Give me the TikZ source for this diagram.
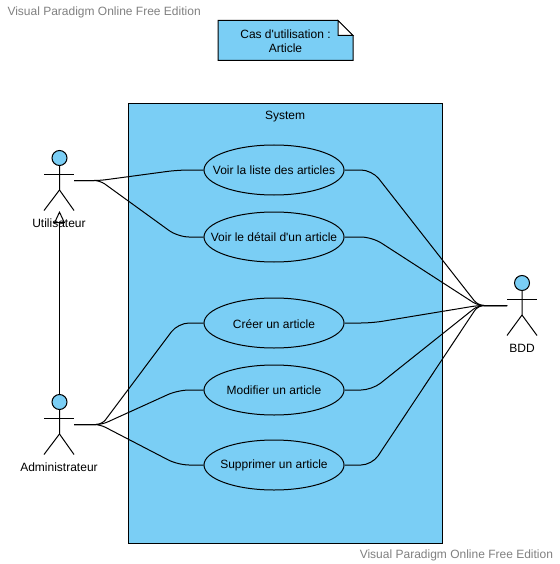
\documentclass[tikz,border=0pt]{standalone}
\usepackage{fontspec}
\newfontfamily\vpfont{Liberation Sans}
\usetikzlibrary{arrows.meta, shapes.geometric}
\definecolor{vpblue}{RGB}{122,206,245}
\tikzset{
  usecase/.style={draw, ellipse, fill=vpblue, minimum width=140pt, minimum height=50pt, inner sep=0pt},
  head/.style={draw, circle, fill=vpblue, minimum size=15pt, inner sep=0pt},
  label/.style={inner sep=0pt, font=\vpfont\fontsize{12}{14}\selectfont},
  wire/.style={rounded corners=6pt},
  softwire/.style={rounded corners=11pt},
  watermark/.style={inner sep=0pt, text=black!50, font=\vpfont\fontsize{12}{14}\selectfont}
}
\begin{document}
\begin{tikzpicture}[x=1pt,y=-1pt,line width=1pt]
\useasboundingbox (0,0) rectangle (559,564);
\node[watermark,anchor=west] (markA) at (7,12) {Visual Paradigm Online Free Edition};
\node[watermark,anchor=east] (markB) at (553.5,555) {Visual Paradigm Online Free Edition};
% note
\draw[fill=vpblue] (218,20.5) -- (338,20.5) -- (353,35.5) -- (353,60.5) -- (218,60.5) -- cycle;
\draw[fill=white] (338,20.5) -- (338,35.5) -- (353,35.5) -- cycle;
\node[label,align=center] (note) at (285.5,41) {Cas d'utilisation :\\Article};
% system
\node[draw,fill=vpblue,minimum width=314pt,minimum height=440pt,inner sep=0pt] (system) at (285.5,323.5) {};
\node[label] (systemtitle) at (285,117) {System};
% use cases
\node[usecase] (liste) at (274,170) {};
\node[label] at (274,170.5) {Voir la liste des articles};
\node[usecase] (detail) at (274,237) {};
\node[label] at (274,237.5) {Voir le détail d'un article};
\node[usecase] (creer) at (274,323) {};
\node[label] at (274,324) {Créer un article};
\node[usecase] (modifier) at (274,390) {};
\node[label] at (274,390.5) {Modifier un article};
\node[usecase] (supprimer) at (274,465) {};
\node[label] at (274,465) {Supprimer un article};
% actors
\node[head] (headU) at (59.5,158) {};
\draw (headU.south) -- (59.5,190) -- (44,210.5);
\draw (59.5,190) -- (74,210.5);
\draw (44,174.5) -- (74,174.5);
\node[head] (headA) at (59.5,402) {};
\draw (headA.south) -- (59.5,434) -- (44,454.5);
\draw (59.5,434) -- (74,454.5);
\draw (44,418.5) -- (74,418.5);
\node[head] (headB) at (522,283) {};
\draw (headB.south) -- (522,315) -- (507,335.5);
\draw (522,315) -- (537,335.5);
\draw (507,299.5) -- (537,299.5);
\coordinate (util) at (74,180.5);
\coordinate (admin) at (74,424.5);
\coordinate (bdd) at (507,305.5);
\coordinate (tipU) at (59.5,211);
% generalisation
\draw[-{Triangle[open,fill=white,length=12pt,width=11pt]}] (headA.north) -- (tipU);
\node[label] (labelU) at (59,223.5) {Utilisateur};
\node[label] (labelA) at (59,467.5) {Administrateur};
\node[label] (labelB) at (522,348.5) {BDD};
% connectors
\draw[wire] (util) -- (100,180.5) [softwire] -- (178,170) -- (liste.west);
\draw[wire] (util) -- (100,180.5) [softwire] -- (178,237) -- (detail.west);
\draw[wire] (admin) -- (102,424.5) [softwire] -- (178,323) -- (creer.west);
\draw[wire] (admin) -- (102,424.5) [softwire] -- (178,390) -- (modifier.west);
\draw[wire] (admin) -- (100,424.5) [softwire] -- (178,465) -- (supprimer.west);
\draw[softwire] (liste.east) -- (372,170) [wire] -- (478,305.5) -- (bdd);
\draw[softwire] (detail.east) -- (372,237) [wire] -- (478,305.5) -- (bdd);
\draw[softwire] (creer.east) -- (372,323) [wire] -- (478,305.5) -- (bdd);
\draw[softwire] (modifier.east) -- (372,390) [wire] -- (478,305.5) -- (bdd);
\draw[softwire] (supprimer.east) -- (372,465) [wire] -- (478,305.5) -- (bdd);
\end{tikzpicture}
\end{document}
